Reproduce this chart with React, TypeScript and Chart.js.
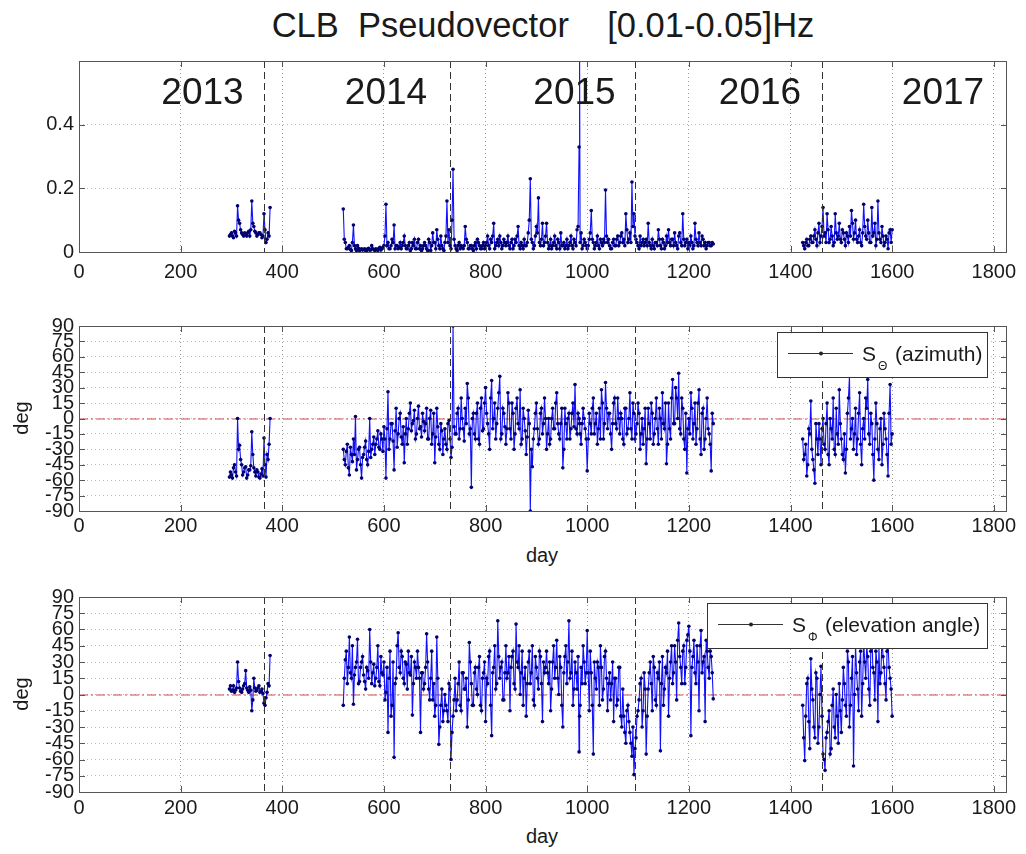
import React, { useEffect, useRef } from "react";
import { Chart, registerables } from "chart.js";

Chart.register(...registerables);

const FONT = "'Liberation Sans', Arial, Helvetica, sans-serif";

// ---------- axes / labels ----------
const X_MIN = 0;
const X_MAX = 1826;
const xTickValues = [0, 200, 400, 600, 800, 1000, 1200, 1400, 1600, 1800];
const yearBoundaryDays = [365, 730, 1095, 1461];
const yearLabels = ["2013", "2014", "2015", "2016", "2017"];
const yearLabelDays = [243, 604, 975, 1340, 1700];
const ampTickValues = [0, 0.2, 0.4];
const degTickValues = [-90, -75, -60, -45, -30, -15, 0, 15, 30, 45, 60, 75, 90];
const gapDays = [448, 1336];

// ---------- data: days (main samples) ----------
const daysA = [296, 300, 304, 308, 312, 316, 320, 324, 328, 332, 336, 340, 344, 348, 352, 356, 360, 364, 368, 372, 376];
const daysB = [
  520, 524, 528, 532, 536, 540, 544, 548, 552, 556,
  560, 564, 568, 572, 576, 580, 584, 588, 592, 596,
  600, 604, 608, 612, 616, 620, 624, 628, 632, 636,
  640, 644, 648, 652, 656, 660, 664, 668, 672, 676,
  680, 684, 688, 692, 696, 700, 704, 708, 712, 716,
  720, 724, 728, 732, 736, 740, 744, 748, 752, 756,
  760, 764, 768, 772, 776, 780, 784, 788, 792, 796,
  800, 804, 808, 812, 816, 820, 824, 828, 832, 836,
  840, 844, 848, 852, 856, 860, 864, 868, 872, 876,
  880, 884, 888, 892, 896, 900, 904, 908, 912, 916,
  920, 924, 928, 932, 936, 940, 944, 948, 952, 956,
  960, 964, 968, 972, 976, 980, 984, 985, 988, 992, 996,
  1000, 1004, 1008, 1012, 1016, 1020, 1024, 1028, 1032, 1036,
  1040, 1044, 1048, 1052, 1056, 1060, 1064, 1068, 1072, 1076,
  1080, 1084, 1088, 1092, 1096, 1100, 1104, 1108, 1112, 1116,
  1120, 1124, 1128, 1132, 1136, 1140, 1144, 1148, 1152, 1156,
  1160, 1164, 1168, 1172, 1176, 1180, 1184, 1188, 1192, 1196,
  1200, 1204, 1208, 1212, 1216, 1220, 1224, 1228, 1232, 1236,
  1240, 1244, 1248,
];
const daysC = [
  1424, 1428, 1432, 1436, 1440, 1444, 1448, 1452, 1456, 1460,
  1464, 1468, 1472, 1476, 1480, 1484, 1488, 1492, 1496, 1500,
  1504, 1508, 1512, 1516, 1520, 1524, 1528, 1532, 1536, 1540,
  1544, 1548, 1552, 1556, 1560, 1564, 1568, 1572, 1576, 1580,
  1584, 1588, 1592, 1596, 1600,
];
// ---------- data: days (in-between samples) ----------
const daysA2 = [298, 302, 306, 310, 314, 318, 322, 326, 330, 334, 338, 342, 346, 350, 354, 358, 362, 366, 370, 374];
const daysB2 = [
  522, 526, 530, 534, 538, 542, 546, 550, 554, 558,
  562, 566, 570, 574, 578, 582, 586, 590, 594, 598,
  602, 606, 610, 614, 618, 622, 626, 630, 634, 638,
  642, 646, 650, 654, 658, 662, 666, 670, 674, 678,
  682, 686, 690, 694, 698, 702, 706, 710, 714, 718,
  722, 726, 730, 734, 738, 742, 746, 750, 754, 758,
  762, 766, 770, 774, 778, 782, 786, 790, 794, 798,
  802, 806, 810, 814, 818, 822, 826, 830, 834, 838,
  842, 846, 850, 854, 858, 862, 866, 870, 874, 878,
  882, 886, 890, 894, 898, 902, 906, 910, 914, 918,
  922, 926, 930, 934, 938, 942, 946, 950, 954, 958,
  962, 966, 970, 974, 978, 982, 986, 990, 994, 998,
  1002, 1006, 1010, 1014, 1018, 1022, 1026, 1030, 1034, 1038,
  1042, 1046, 1050, 1054, 1058, 1062, 1066, 1070, 1074, 1078,
  1082, 1086, 1090, 1094, 1098, 1102, 1106, 1110, 1114, 1118,
  1122, 1126, 1130, 1134, 1138, 1142, 1146, 1150, 1154, 1158,
  1162, 1166, 1170, 1174, 1178, 1182, 1186, 1190, 1194, 1198,
  1202, 1206, 1210, 1214, 1218, 1222, 1226, 1230, 1234, 1238,
  1242, 1246,
];
const daysC2 = [
  1426, 1430, 1434, 1438, 1442, 1446, 1450, 1454, 1458, 1462,
  1466, 1470, 1474, 1478, 1482, 1486, 1490, 1494, 1498, 1502,
  1506, 1510, 1514, 1518, 1522, 1526, 1530, 1534, 1538, 1542,
  1546, 1550, 1554, 1558, 1562, 1566, 1570, 1574, 1578, 1582,
  1586, 1590, 1594, 1598,
];

// ---------- data: amplitude ----------
const ampA = [0.05, 0.06, 0.045, 0.06, 0.145, 0.09, 0.06, 0.05, 0.055, 0.06, 0.05, 0.16, 0.08, 0.06, 0.055, 0.06, 0.045, 0.12, 0.03, 0.06, 0.14];
const ampB = [
  0.135, 0.03, 0.01, 0.02, 0.005, 0.085, 0.01, 0.02, 0.005, 0.01,
  0.008, 0.005, 0.01, 0.006, 0.02, 0.008, 0.01, 0.005, 0.015, 0.01,
  0.02, 0.15, 0.03, 0.01, 0.04, 0.085, 0.02, 0.01, 0.03, 0.02,
  0.05, 0.01, 0.02, 0.005, 0.03, 0.04, 0.01, 0.04, 0.02, 0.01,
  0.03, 0.01, 0.04, 0.005, 0.06, 0.03, 0.07, 0.02, 0.05, 0.01,
  0.03, 0.16, 0.07, 0.01, 0.26, 0.02, 0.005, 0.03, 0.02, 0.01,
  0.08, 0.03, 0.01, 0.02, 0.005, 0.03, 0.04, 0.02, 0.01, 0.03,
  0.02, 0.05, 0.01, 0.03, 0.09, 0.02, 0.04, 0.05, 0.01, 0.04,
  0.02, 0.05, 0.01, 0.04, 0.02, 0.03, 0.08, 0.01, 0.02, 0.04,
  0.02, 0.06, 0.23, 0.03, 0.02, 0.08, 0.17, 0.02, 0.09, 0.03,
  0.09, 0.01, 0.04, 0.02, 0.05, 0.01, 0.03, 0.06, 0.02, 0.01,
  0.04, 0.02, 0.05, 0.01, 0.03, 0.07, 0.33, 0.62, 0.06, 0.02, 0.03,
  0.01, 0.04, 0.13, 0.03, 0.02, 0.05, 0.01, 0.03, 0.04, 0.195,
  0.03, 0.02, 0.01, 0.04, 0.02, 0.05, 0.03, 0.06, 0.04, 0.12,
  0.03, 0.06, 0.22, 0.12, 0.04, 0.02, 0.05, 0.03, 0.02, 0.04,
  0.09, 0.02, 0.04, 0.01, 0.03, 0.07, 0.02, 0.04, 0.01, 0.05,
  0.07, 0.02, 0.04, 0.06, 0.02, 0.05, 0.03, 0.12, 0.02, 0.04,
  0.03, 0.05, 0.01, 0.09, 0.03, 0.06, 0.02, 0.04, 0.03, 0.02,
  0.03, 0.02, 0.025,
];
const ampC = [
  0.03, 0.01, 0.04, 0.02, 0.05, 0.03, 0.07, 0.02, 0.09, 0.05,
  0.14, 0.06, 0.12, 0.03, 0.08, 0.02, 0.12, 0.04, 0.09, 0.03,
  0.06, 0.02, 0.05, 0.08, 0.13, 0.04, 0.1, 0.03, 0.07, 0.02,
  0.15, 0.05, 0.1, 0.03, 0.14, 0.06, 0.02, 0.16, 0.04, 0.08,
  0.02, 0.05, 0.01, 0.07, 0.07,
];
const ampA2 = [0.055, 0.05, 0.065, 0.05, 0.1, 0.07, 0.055, 0.06, 0.05, 0.065, 0.07, 0.09, 0.065, 0.05, 0.06, 0.055, 0.05, 0.07, 0.04, 0.05];
const ampB2 = [
  0.04, 0.01, 0.015, 0.008, 0.03, 0.02, 0.005, 0.012, 0.008, 0.006,
  0.01, 0.004, 0.012, 0.006, 0.01, 0.005, 0.008, 0.012, 0.006, 0.015,
  0.05, 0.02, 0.01, 0.02, 0.03, 0.01, 0.02, 0.015, 0.01, 0.03,
  0.02, 0.01, 0.03, 0.01, 0.02, 0.01, 0.03, 0.01, 0.005, 0.02,
  0.02, 0.005, 0.03, 0.02, 0.03, 0.01, 0.04, 0.01, 0.02, 0.005,
  0.05, 0.03, 0.02, 0.1, 0.04, 0.01, 0.02, 0.01, 0.015, 0.02,
  0.04, 0.01, 0.02, 0.01, 0.02, 0.01, 0.03, 0.01, 0.02, 0.01,
  0.03, 0.02, 0.04, 0.05, 0.01, 0.03, 0.02, 0.03, 0.02, 0.03,
  0.03, 0.02, 0.03, 0.01, 0.04, 0.05, 0.02, 0.03, 0.01, 0.02,
  0.03, 0.1, 0.04, 0.01, 0.05, 0.06, 0.03, 0.04, 0.02, 0.05,
  0.03, 0.02, 0.01, 0.03, 0.02, 0.04, 0.01, 0.02, 0.03, 0.02,
  0.01, 0.03, 0.02, 0.04, 0.02, 0.08, 0.03, 0.01, 0.04, 0.02,
  0.02, 0.06, 0.04, 0.01, 0.03, 0.02, 0.04, 0.02, 0.03, 0.05,
  0.04, 0.01, 0.03, 0.02, 0.04, 0.02, 0.05, 0.03, 0.02, 0.07,
  0.04, 0.03, 0.08, 0.05, 0.03, 0.01, 0.02, 0.04, 0.03, 0.02,
  0.03, 0.01, 0.02, 0.03, 0.02, 0.04, 0.01, 0.03, 0.02, 0.03,
  0.03, 0.04, 0.02, 0.03, 0.01, 0.06, 0.02, 0.04, 0.03, 0.01,
  0.02, 0.03, 0.02, 0.04, 0.02, 0.03, 0.05, 0.02, 0.01, 0.03,
  0.02, 0.03,
];
const ampC2 = [
  0.02, 0.03, 0.02, 0.04, 0.03, 0.05, 0.04, 0.06, 0.03, 0.08,
  0.05, 0.03, 0.07, 0.04, 0.05, 0.03, 0.06, 0.05, 0.04, 0.07,
  0.04, 0.06, 0.03, 0.05, 0.09, 0.06, 0.04, 0.05, 0.03, 0.06,
  0.08, 0.04, 0.06, 0.03, 0.05, 0.09, 0.04, 0.06, 0.03, 0.05,
  0.03, 0.04, 0.06, 0.03,
];

// ---------- data: azimuth (deg) ----------
const aziA = [-57, -55, -48, -52, 0, -26, -45, -52, -47, -55, -50, -13, -48, -56, -52, -58, -49, -19, -57, -40, 0];
const aziB = [
  -30, -45, -25, -55, -35, -20, 2, -40, -28, -58,
  -35, -22, -45, 0, -30, -18, -25, -12, -30, -20,
  -8, -58, 26, -20, -5, -50, 10, -15, 5, -25,
  -43, 0, -10, 15, -5, 8, -15, 12, -8, 5,
  -12, 10, -20, 8, -15, -43, 10, -25, -5, -35,
  -10, -30, -2, -38, 90, -15, 5, -20, 20, -10,
  10, 34, -15, -67, 5, -20, 15, -25, 20, -10,
  30, -5, -30, 37, 0, -20, 10, 41, -15, 5,
  -25, 25, -10, 15, -30, 10, -5, 28, -20, 0,
  -35, 8, -90, -47, -10, 15, -25, 5, -15, 20,
  -30, 0, -20, 10, -10, 25, -15, -5, -48, 10,
  -20, 5, -10, 15, 33, -15, 0, -5, -25, 10, -10,
  -51, 5, -15, 20, -5, -25, 10, 28, -20, 35,
  -10, 5, -30, 15, -5, 20, -15, 0, -25, 10,
  -10, 25, -20, 5, -15, 15, -30, 0, -10, -44,
  10, -20, 5, -15, 20, -25, 0, 25, -10, -44,
  15, -20, 38, -5, 20, 44, -15, 10, -30, -53,
  0, 25, -20, 15, -10, 28, -35, 10, -20, 20,
  -15, -51, -5,
];
const aziC = [
  -20, -35, -56, -10, 17, -40, -63, -20, -5, -45,
  0, -30, 15, -45, -10, 20, -35, -15, 28, -20,
  -40, -53, 5, 41, -10, -30, 10, -20, 25, -45,
  0, 20, 38, -25, -5, -60, 15, -30, -10, -45,
  5, -20, -56, 33, -15,
];
const aziA2 = [-52, -58, -45, -56, -30, -40, -55, -48, -58, -50, -46, -35, -52, -50, -57, -54, -56, -45, -35, -25];
const aziB2 = [
  -40, -32, -48, -28, -42, -35, -50, -30, -45, -38,
  -28, -40, -32, -38, -25, -35, -20, -28, -15, -32,
  -20, -10, -30, -5, -22, -12, -28, 0, -18, -8,
  -15, -25, 5, -12, -2, -20, 0, -10, -18, -3,
  -5, -20, 0, -25, 5, -18, -8, -30, -12, -20,
  -25, -5, -20, -28, -8, -15, 10, -10, 0, -22,
  -5, 20, -10, 0, -15, 5, -20, 10, -12, 15,
  5, -15, 20, -10, 15, -5, 25, -20, 10, -8,
  -10, 15, -20, 5, -15, 20, -10, -25, 10, -12,
  -18, -5, -30, -20, 5, -10, -20, 10, -5, 0,
  -15, -25, 0, -10, 15, -5, -20, 10, -30, -5,
  0, -20, 5, -8, -10, 5, -15, -5, 0, -20,
  -20, -5, 10, -15, 5, -10, -20, 15, -5, 10,
  5, -15, -5, 20, -10, 0, 5, -20, 10, -15,
  0, -10, 15, -20, -5, 5, -15, -25, 10, -20,
  -5, 15, -25, 0, -10, 10, -20, -5, 15, -25,
  -10, 20, -5, 30, 0, -10, 20, -20, 5, -10,
  -15, 10, -5, -25, 15, -20, 5, -30, 0, -10,
  -25, 5,
];
const aziC2 = [
  -40, -25, -45, -15, -30, -50, -5, -35, -20, -10,
  -25, -5, -35, 0, -20, -30, 10, -25, -5, -35,
  -15, -30, 20, -20, 0, -15, -35, 5, -25, -10,
  -20, 10, -15, 5, -35, -20, -5, -40, 0, -25,
  -10, -35, 5, -25,
];

// ---------- data: elevation (deg) ----------
const eleA = [5, 3, 8, 4, 30, 6, 2, 8, 22, 4, 7, -15, 15, 3, 6, 2, 5, -8, -3, 10, 36];
const eleB = [
  -10, 32, 10, 53, 15, -9, 25, 51, 12, 30,
  18, 5, 22, 60, 10, 28, 15, 45, 8, 20,
  30, 2, -35, 40, -10, -58, 15, 57, 20, 35,
  10, 28, 40, 18, -19, 30, 15, 25, -35, 20,
  10, 56, 5, 15, -5, -20, 53, -46, -10, -25,
  0, -15, 10, -60, -20, 15, -5, 30, -15, 20,
  5, -30, 48, 10, -10, 25, 0, 35, -15, 20,
  -25, 10, 40, -38, 25, 5, 68, 15, 30, -5,
  45, 20, -15, 35, 10, 65, 25, 0, 40, 15,
  -20, 30, 10, 45, -10, 25, 5, 35, -25, 20,
  40, 10, -15, 30, 15, 50, 0, 25, -30, 35,
  10, 68, 20, -10, 30, 5, -53, -20, 25, 45, 10,
  59, -15, 20, -55, 15, 30, -10, 25, 5, 40,
  -15, 20, 10, -25, 15, -5, 25, -30, -20, -45,
  -10, -35, -57, -74, -40, -15, 10, -30, 20, -55,
  5, 30, -15, 25, -10, 15, -52, 35, 5, 20,
  -20, 30, 10, 45, -5, 66, 25, 40, 10, 50,
  63, -38, 35, 20, 45, -15, 59, 30, -25, 40,
  15, 35, -4,
];
const eleC = [
  -10, -61, 10, -25, 33, -5, -40, 15, -30, 26,
  -55, -70, -35, -15, -50, 5, -40, -20, 10, -35,
  25, -10, 40, -30, 15, -66, 45, 5, 30, -20,
  50, 15, 35, -10, 60, 20, 40, -25, 10, 55,
  25, -5, 45, 15, -20,
];
const eleA2 = [8, 4, 2, 6, 12, 3, 5, 10, 6, 2, 4, -5, 6, 4, 8, 3, 1, -10, 2, 8];
const eleB2 = [
  15, 40, 25, 20, 45, 18, 30, 10, 25, 35,
  12, 25, 15, 30, 20, 8, 25, 12, 35, 18,
  -5, 25, 15, -20, 30, 10, 45, 25, 40, 15,
  30, 5, 20, 35, 10, 25, 40, 15, 20, 5,
  25, 30, -5, 40, 10, -10, 15, -30, 5, -15,
  -10, -25, 5, -35, -5, -15, 10, -10, 20, 5,
  15, -5, 30, -10, 20, 5, 25, -10, 15, 30,
  15, 35, -10, 20, 45, 10, 35, 25, -5, 20,
  15, 35, 25, 40, 5, 30, 45, 20, -10, 25,
  10, 40, 20, -5, 35, 15, 40, 10, 30, 25,
  20, 30, 5, 45, 25, 15, 35, -10, 20, 45,
  30, 15, 40, 5, 20, 35, -10, 10, 30, 20,
  20, 40, -10, 30, 5, 25, 45, -5, 35, 15,
  10, -5, 30, 15, -10, 25, -20, 5, -35, -15,
  -25, -45, -30, -50, -20, -5, 15, -15, 5, -20,
  20, 10, 35, -5, 20, 30, 10, -10, 25, 40,
  15, 45, 20, 30, 50, 35, 10, 45, 25, 55,
  40, 25, 50, 10, 30, 45, 20, 35, 50, 25,
  40, 20,
];
const eleC2 = [
  -40, -20, 15, -50, 5, -30, 20, -45, 0, -20,
  -60, -40, -25, -55, -10, -30, 0, -45, -15, -5,
  10, -20, 30, -10, 35, 0, 20, -15, 40, 10,
  30, 45, 5, 40, 25, -5, 30, 45, 20, 35,
  10, 40, 25, 5,
];

type Pt = { x: number; y: number | null };

function segment(d1: number[], v1: number[], d2: number[], v2: number[]): Pt[] {
  const pts: Pt[] = [];
  d1.forEach((d, i) => pts.push({ x: d, y: v1[i] }));
  d2.forEach((d, i) => pts.push({ x: d, y: v2[i] }));
  pts.sort((a, b) => a.x - b.x);
  return pts;
}

function buildSeries(a: number[], b: number[], c: number[], a2: number[], b2: number[], c2: number[]): Pt[] {
  return [
    ...segment(daysA, a, daysA2, a2),
    { x: gapDays[0], y: null },
    ...segment(daysB, b, daysB2, b2),
    { x: gapDays[1], y: null },
    ...segment(daysC, c, daysC2, c2),
  ];
}

type LegendSpec = { sym: string; text: string; width: number };

type PanelSpec = {
  top: number;
  height: number;
  areaTop: number;
  areaBottom: number;
  yMin: number;
  yMax: number;
  yTicks: number[];
  fmt: (v: number) => string;
  data: Pt[];
  zeroLine: boolean;
  years: boolean;
  legend?: LegendSpec;
  xPad: number;
};

const AREA_LEFT = 79;
const AREA_RIGHT = 1007;
const W = 1026;

const overlayPlugin = (spec: PanelSpec) => ({
  id: "overlay",
  beforeDatasetsDraw(chart: any) {
    const { ctx, chartArea } = chart;
    const ys = chart.scales.y;
    ctx.save();
    if (spec.zeroLine) {
      const y0 = ys.getPixelForValue(0);
      ctx.strokeStyle = "rgba(205,45,45,0.85)";
      ctx.lineWidth = 1;
      ctx.setLineDash([9, 3, 2, 3]);
      ctx.beginPath();
      ctx.moveTo(chartArea.left, y0 + 0.5);
      ctx.lineTo(chartArea.right, y0 + 0.5);
      ctx.stroke();
    }
    ctx.restore();
  },
  afterDatasetsDraw(chart: any) {
    const { ctx, chartArea } = chart;
    const xs = chart.scales.x;
    const ys = chart.scales.y;
    ctx.save();
    // year boundaries
    ctx.strokeStyle = "#333";
    ctx.lineWidth = 1;
    ctx.setLineDash([7, 4]);
    yearBoundaryDays.forEach((d) => {
      const x = Math.round(xs.getPixelForValue(d)) + 0.5;
      ctx.beginPath();
      ctx.moveTo(x, chartArea.top);
      ctx.lineTo(x, chartArea.bottom);
      ctx.stroke();
    });
    ctx.setLineDash([]);
    // year labels
    if (spec.years) {
      ctx.fillStyle = "#1a1a1a";
      ctx.font = `37px ${FONT}`;
      ctx.textAlign = "center";
      ctx.textBaseline = "middle";
      yearLabels.forEach((t, i) => {
        ctx.fillText(t, xs.getPixelForValue(yearLabelDays[i]), chartArea.top + 33);
      });
    }
    // frame
    ctx.strokeStyle = "#555";
    ctx.lineWidth = 1;
    ctx.strokeRect(chartArea.left + 0.5, chartArea.top + 0.5, chartArea.right - chartArea.left - 1, chartArea.bottom - chartArea.top);
    // inward ticks
    ctx.beginPath();
    xTickValues.forEach((v) => {
      const x = Math.round(xs.getPixelForValue(v)) + 0.5;
      ctx.moveTo(x, chartArea.bottom);
      ctx.lineTo(x, chartArea.bottom - 6);
      ctx.moveTo(x, chartArea.top);
      ctx.lineTo(x, chartArea.top + 6);
    });
    spec.yTicks.forEach((v) => {
      const y = Math.round(ys.getPixelForValue(v)) + 0.5;
      ctx.moveTo(chartArea.left, y);
      ctx.lineTo(chartArea.left + 6, y);
      ctx.moveTo(chartArea.right, y);
      ctx.lineTo(chartArea.right - 6, y);
    });
    ctx.stroke();
    // legend
    if (spec.legend) {
      const lg = spec.legend;
      const bx = chartArea.right - 20 - lg.width;
      const by = chartArea.top + 6;
      const bh = 45;
      ctx.fillStyle = "#fff";
      ctx.fillRect(bx, by, lg.width, bh);
      ctx.strokeStyle = "#333";
      ctx.strokeRect(bx + 0.5, by + 0.5, lg.width, bh);
      const ly = by + 21;
      ctx.beginPath();
      ctx.moveTo(bx + 11, ly + 0.5);
      ctx.lineTo(bx + 76, ly + 0.5);
      ctx.stroke();
      ctx.fillStyle = "#222";
      ctx.beginPath();
      ctx.arc(bx + 44, ly + 0.5, 2, 0, Math.PI * 2);
      ctx.fill();
      ctx.fillStyle = "#1a1a1a";
      ctx.textAlign = "left";
      ctx.textBaseline = "alphabetic";
      ctx.font = `21px ${FONT}`;
      ctx.fillText("S", bx + 85, ly + 8);
      const sw = ctx.measureText("S").width;
      ctx.font = `12px ${FONT}`;
      ctx.fillText(lg.sym, bx + 87 + sw, ly + 17);
      ctx.font = `21px ${FONT}`;
      ctx.fillText(lg.text, bx + 118, ly + 8);
    }
    ctx.restore();
  },
});

function Panel({ spec }: { spec: PanelSpec }) {
  const ref = useRef<HTMLCanvasElement | null>(null);
  useEffect(() => {
    if (!ref.current) return;
    const tickFont = { family: FONT, size: 20 };
    const chart = new Chart(ref.current, {
      type: "line",
      data: {
        datasets: [
          {
            data: spec.data as any,
            borderColor: "#1010ff",
            borderWidth: 1.1,
            pointRadius: 1.8,
            pointBackgroundColor: "#000070",
            pointBorderColor: "#000070",
            pointBorderWidth: 0,
            pointHoverRadius: 0,
            spanGaps: false,
            tension: 0,
          },
        ],
      },
      options: {
        animation: false,
        responsive: false,
        maintainAspectRatio: false,
        events: [],
        layout: { padding: { left: 0, right: W - AREA_RIGHT, top: spec.areaTop - spec.top, bottom: 0 } },
        plugins: { legend: { display: false }, tooltip: { enabled: false }, title: { display: false } },
        scales: {
          x: {
            type: "linear",
            min: X_MIN,
            max: X_MAX,
            afterBuildTicks: (s: any) => {
              s.ticks = xTickValues.map((v) => ({ value: v }));
            },
            afterFit: (s: any) => {
              s.height = spec.top + spec.height - spec.areaBottom;
            },
            ticks: {
              autoSkip: false,
              maxRotation: 0,
              minRotation: 0,
              padding: spec.xPad,
              color: "#1a1a1a",
              font: tickFont,
              callback: (v: any) => String(v),
            },
            grid: { color: "rgba(0,0,0,0.4)", lineWidth: 1, drawTicks: false },
            border: { display: false, dash: [1, 3] },
          },
          y: {
            type: "linear",
            min: spec.yMin,
            max: spec.yMax,
            afterBuildTicks: (s: any) => {
              s.ticks = spec.yTicks.map((v) => ({ value: v }));
            },
            afterFit: (s: any) => {
              s.width = AREA_LEFT;
            },
            ticks: {
              autoSkip: false,
              padding: 5,
              color: "#1a1a1a",
              font: tickFont,
              callback: (v: any) => spec.fmt(Number(v)),
            },
            grid: { color: "rgba(0,0,0,0.28)", lineWidth: 1, drawTicks: false },
            border: { display: false, dash: [1, 3] },
          },
        },
      },
      plugins: [overlayPlugin(spec)],
    } as any);
    return () => chart.destroy();
  }, [spec]);
  return (
    <canvas
      ref={ref}
      width={W}
      height={spec.height}
      style={{ position: "absolute", left: 0, top: spec.top, width: W, height: spec.height }}
    />
  );
}

const panels: PanelSpec[] = [
  {
    top: 44,
    height: 246,
    areaTop: 56,
    areaBottom: 252,
    yMin: 0,
    yMax: 0.6,
    yTicks: ampTickValues,
    fmt: (v) => (v === 0 ? "0" : v.toFixed(1)),
    data: buildSeries(ampA, ampB, ampC, ampA2, ampB2, ampC2),
    zeroLine: false,
    years: true,
    xPad: 8,
  },
  {
    top: 300,
    height: 240,
    areaTop: 326,
    areaBottom: 511,
    yMin: -90,
    yMax: 90,
    yTicks: degTickValues,
    fmt: (v) => String(v),
    data: buildSeries(aziA, aziB, aziC, aziA2, aziB2, aziC2),
    zeroLine: true,
    years: false,
    legend: { sym: "\u0398", text: "(azimuth)", width: 210 },
    xPad: 3,
  },
  {
    top: 580,
    height: 240,
    areaTop: 597,
    areaBottom: 792,
    yMin: -90,
    yMax: 90,
    yTicks: degTickValues,
    fmt: (v) => String(v),
    data: buildSeries(eleA, eleB, eleC, eleA2, eleB2, eleC2),
    zeroLine: true,
    years: false,
    legend: { sym: "\u03A6", text: "(elevation angle)", width: 280 },
    xPad: 4,
  },
];

const textStyle: React.CSSProperties = {
  position: "absolute",
  fontFamily: FONT,
  color: "#1a1a1a",
  whiteSpace: "pre",
  lineHeight: 1,
};

export default function App() {
  return (
    <div style={{ position: "absolute", left: 0, top: 0, width: W, height: 854, background: "#fff", overflow: "hidden" }}>
      <div style={{ ...textStyle, left: AREA_LEFT, width: AREA_RIGHT - AREA_LEFT, top: 8, fontSize: 34.5, textAlign: "center" }}>
        {"CLB  Pseudovector    [0.01-0.05]Hz"}
      </div>
      {panels.map((p, i) => (
        <Panel key={i} spec={p} />
      ))}
      <div style={{ ...textStyle, left: 542, top: 555, fontSize: 20, transform: "translate(-50%,-50%)" }}>day</div>
      <div style={{ ...textStyle, left: 542, top: 836, fontSize: 20, transform: "translate(-50%,-50%)" }}>day</div>
      <div style={{ ...textStyle, left: 21, top: 418, fontSize: 20, transform: "translate(-50%,-50%) rotate(-90deg)" }}>deg</div>
      <div style={{ ...textStyle, left: 21, top: 694, fontSize: 20, transform: "translate(-50%,-50%) rotate(-90deg)" }}>deg</div>
    </div>
  );
}
